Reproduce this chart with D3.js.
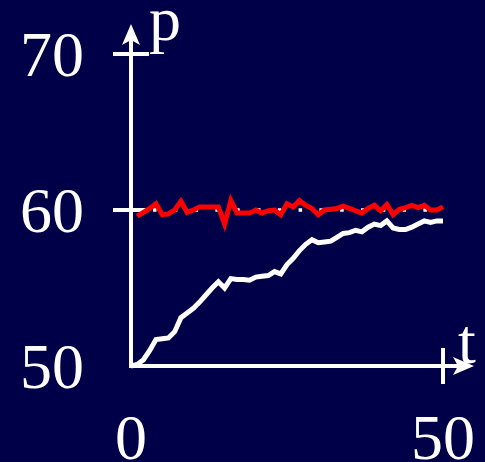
<!DOCTYPE html>
<html>
<head>
<meta charset="utf-8">
<script src="https://cdn.jsdelivr.net/npm/d3@7"></script>
<style>
  html, body { margin: 0; padding: 0; background: #000048; }
  svg { display: block; }
  text { font-family: "Liberation Serif", "Times New Roman", serif; fill: #fff; }
</style>
</head>
<body>
<svg id="chart" width="485" height="462"></svg>
<script>
// Time steps and the two price paths
const tValues = d3.range(0, 51);
const pRising = [50.0, 50.1, 50.4, 51.0, 51.7, 51.75, 51.8, 52.2, 53.1, 53.4,
  53.7, 54.1, 54.55, 55.0, 55.4, 55.0, 55.6, 55.55, 55.55, 55.5,
  55.7, 55.75, 55.8, 56.05, 55.9, 56.5, 56.9, 57.4, 57.8, 58.1,
  57.9, 57.95, 58.0, 58.25, 58.5, 58.55, 58.7, 58.6, 58.9, 59.1,
  59.0, 59.3, 58.85, 58.75, 58.75, 58.9, 59.1, 59.3, 59.2, 59.3, 59.3];
const tFlat = d3.range(1, 51);
const pFlat = [59.6, 59.85, 60.1, 60.4, 59.7, 59.75, 60.0, 60.55, 59.85, 60.0,
  60.2, 60.2, 60.2, 60.2, 59.1, 60.6, 59.8, 59.8, 59.8, 60.0,
  59.8, 59.95, 60.0, 59.7, 60.4, 60.2, 60.6, 60.3, 60.1, 59.7,
  60.0, 60.05, 60.1, 60.25, 60.1, 59.95, 59.8, 60.1, 60.3, 59.95,
  60.35, 59.7, 60.05, 60.15, 60.3, 60.15, 60.3, 60.0, 60.0, 60.2];
const xTicks = [0, 50];
const yTicks = [50, 60, 70];
const equilibrium = 60;

const svg = d3.select("#chart");
const x = d3.scaleLinear().domain([0, 50]).range([131, 443]);
const y = d3.scaleLinear().domain([50, 70]).range([366, 54]);

const white = "#ffffff", red = "#ff0000";
const fontSize = 64;
const axisWidth = 4;

// Dotted reference level
svg.append("line")
  .attr("x1", x(0)).attr("x2", x(50))
  .attr("y1", y(equilibrium)).attr("y2", y(equilibrium))
  .attr("stroke", white).attr("stroke-width", 3.5)
  .attr("stroke-dasharray", "3.5 17.3").attr("stroke-dashoffset", -22);

// Axes with arrowheads
const x0 = x(0), y0 = y(50);
svg.append("line").attr("x1", x0 - 2).attr("x2", 466).attr("y1", y0).attr("y2", y0)
  .attr("stroke", white).attr("stroke-width", axisWidth);
svg.append("line").attr("x1", x0).attr("x2", x0).attr("y1", y0).attr("y2", 32)
  .attr("stroke", white).attr("stroke-width", axisWidth);
svg.append("path")
  .attr("d", `M${x0},24 L${x0 + 9},45 L${x0},40 L${x0 - 9},45 Z`)
  .attr("fill", white);
svg.append("path")
  .attr("d", `M474,${y0} L453,${y0 - 9} L458,${y0} L453,${y0 + 9} Z`)
  .attr("fill", white);

// Ticks crossing the axes
const tickHalf = 18;
yTicks.filter(v => v !== 50).forEach(v => {
  svg.append("line").attr("x1", x0 - tickHalf).attr("x2", x0 + tickHalf)
    .attr("y1", y(v)).attr("y2", y(v)).attr("stroke", white).attr("stroke-width", axisWidth);
});
xTicks.filter(v => v !== 0).forEach(v => {
  svg.append("line").attr("x1", x(v)).attr("x2", x(v))
    .attr("y1", y0 - tickHalf).attr("y2", y0 + tickHalf).attr("stroke", white).attr("stroke-width", axisWidth);
});

// Tick labels
svg.selectAll("text.ylab").data(yTicks).join("text").attr("class", "ylab")
  .attr("x", 84).attr("y", d => y(d)).attr("dy", "0.34em")
  .attr("text-anchor", "end").attr("font-size", fontSize).text(d => d);
svg.selectAll("text.xlab").data(xTicks).join("text").attr("class", "xlab")
  .attr("x", d => x(d)).attr("y", 459)
  .attr("text-anchor", "middle").attr("font-size", fontSize).text(d => d);

// Axis names
svg.append("text").attr("x", 149).attr("y", 40).attr("font-size", fontSize).text("p");
svg.append("text").attr("x", 458).attr("y", 363).attr("font-size", fontSize).text("t");

// Price paths
const line = d3.line().x(d => x(d[0])).y(d => y(d[1]));
svg.append("path")
  .datum(tValues.map((t, i) => [t, pRising[i]]))
  .attr("d", line).attr("fill", "none").attr("stroke", white)
  .attr("stroke-width", 5).attr("stroke-linejoin", "miter");
svg.append("path")
  .datum(tFlat.map((t, i) => [t, pFlat[i]]))
  .attr("d", line).attr("fill", "none").attr("stroke", red)
  .attr("stroke-width", 5).attr("stroke-linejoin", "miter");
</script>
</body>
</html>
